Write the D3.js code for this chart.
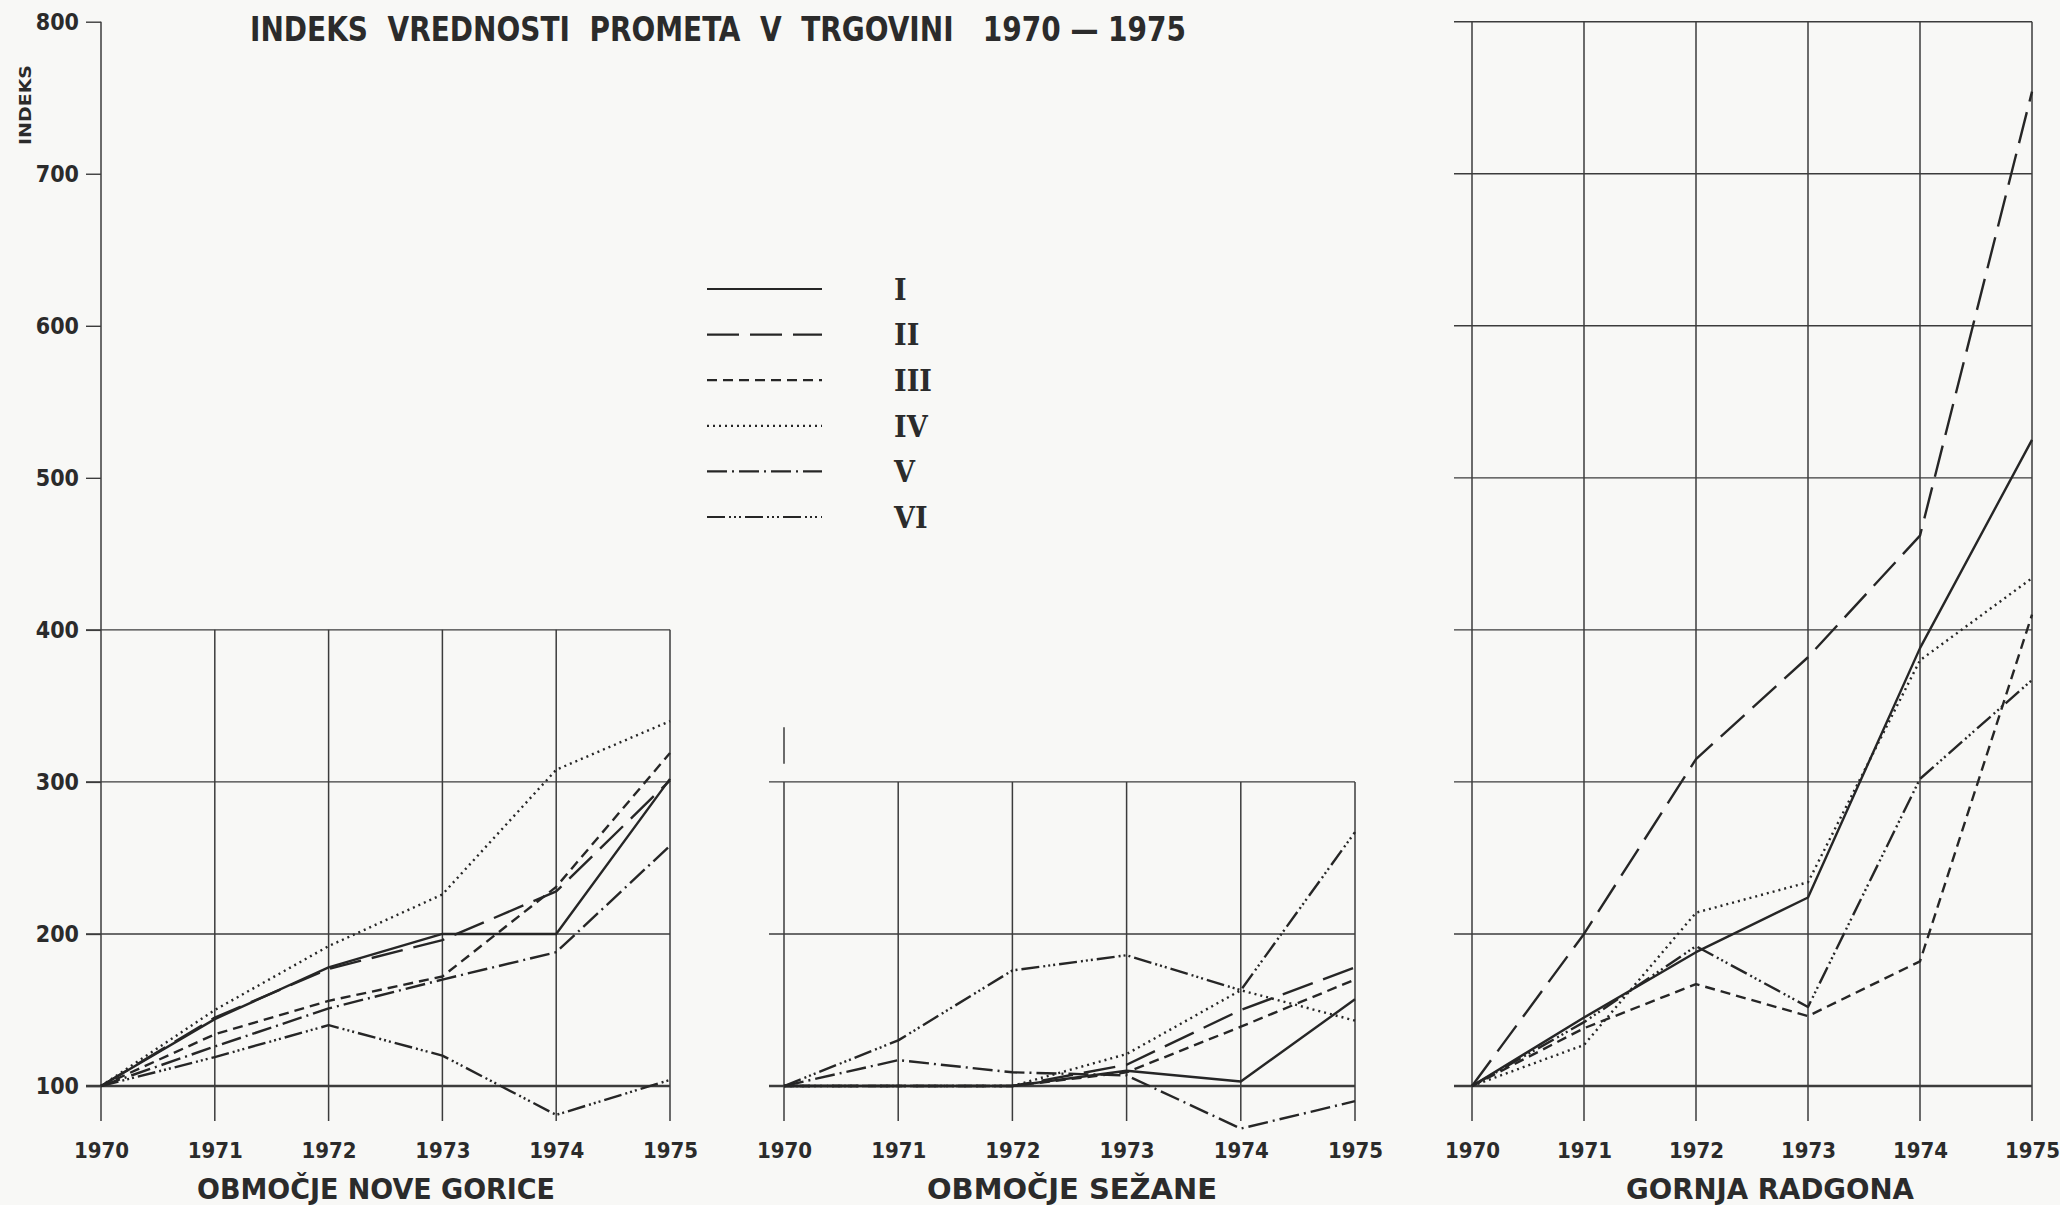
<!DOCTYPE html>
<html>
<head>
<meta charset="utf-8">
<script src="https://cdn.jsdelivr.net/npm/d3@7"></script>
<style>
  body { margin: 0; background: #f8f8f6; }
  text { fill: #2b2b2b; font-family: "DejaVu Sans Condensed", "Liberation Sans Narrow", "DejaVu Sans", sans-serif; font-weight: bold; }
</style>
</head>
<body>
<script>
// data
const years = [1970, 1971, 1972, 1973, 1974, 1975];
const seriesNames = ["I", "II", "III", "IV", "V", "VI"];
const yTicks = [100, 200, 300, 400, 500, 600, 700, 800];

// one row per series I..VI
const novaGorica = [
  [100, 144, 178, 200, 200, 302],
  [100, 145, 177, 196, 228, 301],
  [100, 134, 156, 172, 231, 319],
  [100, 150, 192, 226, 308, 340],
  [100, 126, 151, 170, 188, 258],
  [100, 119, 140, 120, 81, 104]
];
const sezana = [
  [100, 100, 100, 110, 103, 157],
  [100, 100, 100, 114, 150, 178],
  [100, 100, 100, 109, 139, 170],
  [100, 100, 100, 121, 163, 143],
  [100, 117, 109, 107, 72, 90],
  [100, 130, 176, 186, 163, 267]
];
const gornjaRadgona = [
  [100, 145, 188, 224, 388, 525],
  [100, 200, 315, 382, 462, 754],
  [100, 138, 167, 146, 182, 410],
  [100, 127, 214, 234, 380, 434],
  [null, null, null, null, null, null],
  [100, 142, 192, 152, 302, 367]
];

// line styles for the series
const dashes = [null, "32,11", "10,6", "2,4", "20,5,2,5", "18,4,2,3,2,3,2,4"];
const ink = "#262626";
const gridInk = "#3c3c3c";

const svg = d3.select("body").append("svg")
    .attr("width", 2060)
    .attr("height", 1205);

const y = d3.scaleLinear().domain([100, 800]).range([1086, 21.7]);
const bottom = 1121;

const panels = [
  { title: "OBMOČJE NOVE GORICE", data: novaGorica, x0: 101, x1: 670, tickLeft: 86, top: 400, titleX: 376, titleW: 358 },
  { title: "OBMOČJE SEŽANE", data: sezana, x0: 784, x1: 1355, tickLeft: 769, top: 300, titleX: 1072, titleW: 290 },
  { title: "GORNJA RADGONA", data: gornjaRadgona, x0: 1472, x1: 2032, tickLeft: 1454, top: 800, titleX: 1770, titleW: 288 }
];

panels.forEach(function(p, pi) {
    const x = d3.scaleLinear().domain([1970, 1975]).range([p.x0, p.x1]);
    const g = svg.append("g");

    // horizontal grid
    const hVals = yTicks.filter(v => v <= p.top);
    g.selectAll(".h").data(hVals).enter().append("line")
        .attr("x1", p.tickLeft).attr("x2", p.x1)
        .attr("y1", d => y(d)).attr("y2", d => y(d))
        .style("stroke", gridInk)
        .style("stroke-width", d => d === 100 ? 2.6 : 1.4);

    // vertical grid
    g.selectAll(".v").data(years).enter().append("line")
        .attr("x1", d => x(d)).attr("x2", d => x(d))
        .attr("y1", d => (pi === 0 && d === 1970) ? y(800) : y(p.top))
        .attr("y2", bottom)
        .style("stroke", gridInk)
        .style("stroke-width", 1.5);

    // year labels
    const xAxis = d3.axisBottom(x).tickValues(years).tickFormat(d3.format("d")).tickSize(0).tickPadding(21);
    const ax = g.append("g").attr("transform", "translate(0," + bottom + ")").call(xAxis);
    ax.select(".domain").remove();
    ax.selectAll("text").style("font-size", "22px").style("fill", "#2b2b2b");

    // panel title
    g.append("text")
        .attr("x", p.titleX).attr("y", 1199)
        .attr("text-anchor", "middle")
        .attr("textLength", p.titleW)
        .attr("lengthAdjust", "spacingAndGlyphs")
        .style("font-size", "29px")
        .text(p.title);

    // series lines
    const line = d3.line()
        .defined(d => d != null)
        .x((d, i) => x(years[i]))
        .y(d => y(d));

    g.selectAll(".series").data(p.data).enter().append("path")
        .attr("d", d => line(d))
        .style("fill", "none")
        .style("stroke", ink)
        .style("stroke-width", 2.4)
        .style("stroke-linejoin", "round")
        .style("stroke-dasharray", (d, i) => dashes[i]);

    if (pi === 1) {
        // small stray mark above the Sezana grid
        g.append("line")
            .attr("x1", x(1970)).attr("x2", x(1970))
            .attr("y1", y(336)).attr("y2", y(312))
            .style("stroke", gridInk).style("stroke-width", 1.5);
    }
});

// y axis labels and the upper ticks on the left panel
const yAxis = d3.axisLeft(y).tickValues(yTicks).tickSize(15).tickPadding(7);
const yg = svg.append("g").attr("transform", "translate(101,0)").call(yAxis);
yg.select(".domain").remove();
yg.selectAll(".tick line").style("stroke", gridInk).style("stroke-width", 1.4);
yg.selectAll("text").style("font-size", "23px").style("fill", "#2b2b2b");

svg.append("text")
    .attr("transform", "translate(31,105) rotate(-90)")
    .attr("text-anchor", "middle")
    .attr("textLength", 80)
    .attr("lengthAdjust", "spacingAndGlyphs")
    .style("font-size", "16px")
    .text("INDEKS");

// chart title
svg.append("text")
    .attr("x", 250).attr("y", 41)
    .attr("textLength", 936)
    .attr("lengthAdjust", "spacingAndGlyphs")
    .style("font-size", "33px")
    .style("white-space", "pre")
    .text("INDEKS  VREDNOSTI  PROMETA  V  TRGOVINI   1970 — 1975");

// legend
const legendY = d3.scalePoint().domain(seriesNames).range([289, 517]);
const legend = svg.append("g");
legend.selectAll("line").data(seriesNames).enter().append("line")
    .attr("x1", 707).attr("x2", 822)
    .attr("y1", d => legendY(d)).attr("y2", d => legendY(d))
    .style("stroke", ink)
    .style("stroke-width", 2.2)
    .style("stroke-dasharray", (d, i) => dashes[i]);
legend.selectAll("text").data(seriesNames).enter().append("text")
    .attr("x", 894)
    .attr("y", d => legendY(d))
    .attr("dy", "0.36em")
    .style("font-family", "\"DejaVu Serif Condensed\", \"DejaVu Serif\", serif")
    .style("font-size", "30px")
    .text(d => d);
</script>
</body>
</html>
